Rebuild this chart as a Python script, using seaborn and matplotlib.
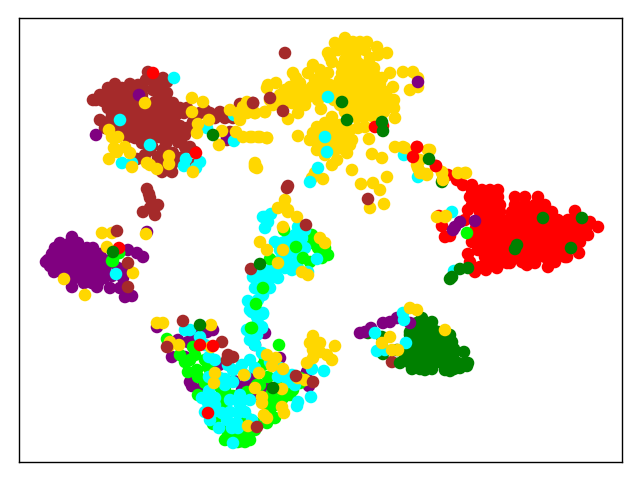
import seaborn as sns
import matplotlib.pyplot as plt
import pandas as pd

sns.set_style("white", {"axes.edgecolor": "black"})

# embedding coordinates, one list per class and layer
brown_core = [(392,362),(148,72),(151,76),(146,80),(155,83),(163,78),(167,82),(158,86),(163,90),(167,93),(153,90),
    (108,88),(115,84),(122,88),(130,84),(138,85),(143,88),(100,95),(110,95),(118,95),(126,95),(134,95),(142,95),(160,97),(166,100),
    (93,100),(103,101),(112,102),(120,102),(128,102),(136,102),(144,102),(155,102),(163,104),(173,103),
    (108,108),(116,108),(124,108),(132,108),(140,108),(148,108),(156,108),(164,108),(172,108),(180,108),(187,108),
    (112,115),(120,115),(128,115),(136,115),(144,115),(152,115),(160,115),(168,115),(176,115),(184,113),
    (100,120),(108,122),(118,122),(126,122),(134,122),(142,122),(150,122),(158,122),(166,122),(174,122),(193,122),
    (120,130),(128,130),(136,130),(144,130),(152,130),(160,130),(168,130),(176,130),(187,128),(180,126),
    (143,137),(151,137),(159,137),(167,137),(175,137),(142,143),(150,150),(163,150),(173,153),(158,157),(158,163),(157,168),(173,163),
    (168,170),(172,172),(137,159),(185,147),(190,147),(195,152),(183,157),(193,165),(164,158),(152,146),(166,144),
    (147,189),(150,198),(158,205),(150,208),(143,212),(155,215),(149,194),(153,205),
    (200,113),(210,113),(220,112),(233,118),(253,103),(247,106),(227,140),(230,132),
    (135,138),(128,137),(178,142),(185,135),(195,118),(205,110),(105,128),(96,100),(145,155),(162,172),(240,104),(215,118),(225,118)]

gold_core = [(345,38),(335,43),(328,53),(332,62),(347,53),(353,42),(367,42),(358,50),(377,47),(387,53),(378,55),(340,46),(360,42),(350,47),
    (342,66),(350,64),(358,63),(366,65),(374,68),(342,73),(350,72),(358,71),(366,72),(374,74),(382,78),(340,80),(348,80),(356,79),(364,80),(372,81),(380,84),
    (338,87),(346,88),(354,87),(362,88),(370,89),(378,90),(386,92),(340,95),(348,95),(356,95),(364,96),(372,96),(380,97),(388,98),(394,100),
    (348,103),(356,103),(364,103),(372,104),(380,104),(388,105),(394,108),(352,110),(360,110),(368,111),(376,111),(384,112),(356,117),(364,117),(372,116),(345,112),(340,105),
    (268,85),(276,83),(293,73),(308,73),(313,65),(320,70),(328,73),(290,87),(300,83),(312,87),(280,95),(287,98),(292,103),(273,105),(297,102),(307,98),(313,95),(323,80),(325,87),
    (321,109),(298,113),(288,119),(332,117),(265,112),(255,113),(296,78),(304,90),(285,90),(290,95),(330,85),(332,92),(334,100),
    (298,136),(317,127),(325,123),(313,133),(322,135),(317,142),(337,132),(350,130),(333,138),(343,137),(352,140),(330,145),(340,145),(350,145),(317,150),(322,148),(347,153),
    (337,160),(332,165),(352,170),(365,127),(369,139),(372,154),(382,158),(395,118),(387,177),(361,184),(373,183),(380,190),(384,204),(370,208),(323,179),(315,173),(312,178),
    (255,165),(257,168),(403,72),(413,72),(418,78),(393,87),(410,90),(418,87),(390,73),(250,137),(258,137),(267,138),(325,130),(310,140),(358,128),
    (338,50),(365,50),(370,58),(345,60),(330,57),(355,57),(300,95),(315,80),(320,90),(305,105),(295,90),(280,105),(318,100),(320,140),(325,140),(340,125),(335,125),(345,125),(330,130),(345,150),(325,155),(335,150)]

red_core = [(472,190),(482,190),(490,190),(498,190),(470,197),(480,197),(490,197),(498,197),(515,197),(525,197),(538,197),
    (472,205),(482,205),(492,205),(500,205),(515,205),(525,205),(535,205),(545,205),(480,212),(490,212),(500,212),(512,212),(522,212),(532,212),(542,212),(552,212),(575,211),
    (468,210),(478,220),(488,220),(498,220),(508,220),(518,220),(528,220),(538,220),(548,220),(558,220),(568,220),(578,220),
    (476,228),(486,228),(496,228),(506,228),(516,228),(526,228),(536,228),(546,228),(556,228),(566,228),(576,228),(586,228),
    (478,235),(488,235),(498,235),(508,235),(518,235),(528,235),(538,235),(548,235),(558,235),(568,235),(578,235),(588,235),(598,227),
    (480,242),(490,242),(500,242),(510,242),(520,242),(530,242),(540,242),(550,242),(560,242),(570,242),(580,242),
    (472,242),(478,250),(488,250),(498,250),(508,250),(518,250),(528,250),(538,250),(548,250),(558,250),(568,250),(575,248),
    (485,257),(495,257),(505,257),(515,257),(525,257),(535,257),(545,257),(555,257),(565,257),(579,253),(490,263),(500,263),(510,263),(525,263),(535,263),
    (468,254),(470,262),(475,272),(486,270),(497,268),(507,263),(527,265),(548,267),(555,262),(567,257),(522,262),(480,267),(493,255),
    (442,226),(439,216),(445,237),(450,236),(465,220),(436,166),(448,175),(457,180),(463,185),(472,185),(590,222)]

purple_core = [(72,237),(60,243),(70,243),(78,243),(55,248),(63,248),(71,248),(79,248),(87,248),(93,248),(52,254),(60,254),(68,254),(76,254),(84,254),(92,254),(100,254),
    (48,260),(46,262),(56,260),(64,260),(72,260),(80,260),(88,260),(96,260),(104,260),(50,266),(58,266),(66,266),(74,266),(82,266),(90,266),(98,266),(106,266),
    (54,272),(62,272),(70,272),(78,272),(86,272),(94,272),(102,272),(72,278),(80,278),(88,278),(96,278),(104,278),(84,283),(92,283),(98,283),
    (72,287),(97,287),(110,288),(120,288),(125,297),(132,296),(128,250),(143,257),(137,253),(118,268),(128,270),(123,278),(112,276)]

green_core = [(422,318),(417,323),(432,322),(410,332),(418,328),(425,328),(432,328),(438,332),
    (410,335),(418,335),(426,335),(434,335),(442,335),(450,335),(412,342),(420,342),(428,342),(436,342),(444,342),(452,342),
    (408,349),(416,349),(424,349),(432,349),(440,349),(448,349),(454,349),(405,356),(413,356),(421,356),(429,356),(437,356),(445,356),(453,356),(464,352),
    (400,363),(410,363),(418,363),(426,363),(434,363),(442,363),(450,363),(458,363),(466,363),(412,369),(420,369),(432,369),(446,369),(454,369),(468,363),
    (413,368),(425,370),(445,370),(450,371),(460,368),(467,366),(382,337),(368,333),(383,354),(397,350)]

purple_stray = [(96,135),(139,95),(227,138),(453,230),(455,227),(460,222),(475,221),(360,333),(371,328),(365,332),(383,323),(390,322),(397,318),(410,323),
    (418,82),(147,232),(157,327),(193,335),(200,332),(207,332),(213,330),(188,342),(178,340),(172,357),(185,357),(190,382),(192,386),(203,387),(219,365),(218,408),
    (245,385),(242,390),(250,390),(260,395),(268,388),(255,345),(307,372),(309,386),(241,441),(268,407),(240,422),(280,358),(265,333),(234,381),(252,378)]

lime = [(167,339),(193,347),(195,355),(185,362),(188,372),(197,370),(208,367),(198,377),(205,383),(198,395),(220,387),(225,390),(220,398),(223,405),(233,396),(247,392),(257,385),
    (263,365),(265,358),(268,377),(272,393),(273,400),(283,398),(293,390),(290,395),(270,410),(275,418),(267,423),(213,424),(228,428),(228,435),(233,438),(245,442),(248,433),(240,433),(247,418),(255,423),
    (312,235),(313,243),(318,248),(325,248),(328,255),(322,258),(310,262),(467,233),(112,261),(119,253),
    (225,440),(235,430),(250,440),(215,420),(260,385),(280,385),(300,383),(300,378),(275,405),(255,430),(238,442),(205,360),(190,360),(180,355),(210,375)]

cyan = [(265,217),(271,214),(268,222),(265,228),(298,227),(305,230),(295,235),(288,237),(302,238),(275,242),(282,243),(292,245),(305,248),(297,253),(288,253),(282,258),(290,263),(295,263),(292,270),(298,268),(308,272),(317,259),
    (272,268),(277,268),(265,272),(260,273),(253,277),(278,278),(272,277),(263,280),(270,288),(255,288),(263,295),(248,301),(258,300),(252,312),(263,314),(257,317),(258,323),(262,327),(247,330),
    (263,313),(252,330),(262,328),(248,330),(257,335),(185,330),(200,337),(209,357),(262,353),(242,365),(250,360),(233,370),(209,377),(225,379),(233,382),(278,377),(288,382),(292,375),(209,391),(202,398),(208,403),(215,398),(230,400),(240,405),
    (213,412),(222,413),(230,412),(238,413),(227,420),(237,423),(238,428),(219,428),(298,402),(297,406),(311,397),(312,369),(324,371),(280,368),(233,443),(174,78),(207,128),(234,141),(234,115),(186,159),(200,162),(196,168),(184,166),(122,163),(132,163),(120,120),(150,145),
    (328,97),(318,168),(310,182),(404,155),(327,152),(325,137),(418,177),(263,217),(452,212),(454,271),(116,274),(403,313),(404,320),(375,333),(377,351),(385,350),(406,343),
    (205,345),(215,360),(190,330),(225,385),(215,405),(232,428),(245,412),(250,400),(245,375),(255,368),(270,362),(285,375),(295,385),(220,378),(228,365),(210,420),(252,420),(240,395),(205,412),
    (280,250),(300,258),(285,268),(275,262),(268,282),(260,290),(250,310),(255,345),(250,340)]

lime_top = [(284,230),(296,247),(270,259),(303,258),(263,288),(256,304),(251,328),(279,345),(252,328),(113,261),(119,253)]

gold_stray = [(395,147),(405,148),(413,153),(430,150),(420,160),(418,168),(427,174),(420,173),(442,173),(443,180),(445,217),(403,147),(413,153),(428,150),(417,165),(422,173),(427,175),(442,172),(458,173),(465,173),(446,216),(437,217),
    (278,208),(285,200),(288,210),(297,217),(288,212),(283,227),(260,242),(267,250),(283,250),(320,238),(325,243),(302,272),(308,275),(278,263),
    (192,98),(203,102),(145,103),(192,112),(198,124),(197,133),(209,120),(222,131),(236,132),(219,145),(109,130),(112,137),(118,137),(114,148),(117,152),(125,147),(130,153),(109,159),(132,167),(147,163),(150,165),(169,156),(169,164),(157,169),(193,172),(255,163),(255,167),
    (230,110),(243,107),(247,102),(238,113),(247,113),(255,113),(265,112),(243,137),(252,137),(260,137),(267,138),(240,120),(267,88),(270,100),
    (102,233),(112,233),(146,234),(107,247),(64,279),(85,295),(133,273),(157,323),(163,323),(211,325),(170,342),(169,346),(179,345),(211,347),(267,355),(276,358),(272,366),(283,369),(244,375),(259,373),(215,373),(214,383),(255,388),(282,389),(262,397),(262,403),(282,407),(284,413),(264,415),(267,418),(248,426),
    (313,336),(310,343),(320,343),(335,346),(313,350),(320,352),(327,355),(332,360),(307,363),(313,358),(298,378),(305,380),(410,308),(417,310),(390,337),(382,343),(392,350),(398,350),(445,330)]

brown_stray = [(285,53),(253,103),(283,111),(270,98),(128,287),(128,263),(117,231),(228,355),(227,360),(233,357),(183,321),(222,342),(296,376),(313,382),(257,427),(167,347),(368,199),(251,269),(287,188),(306,225),(288,186)]

red_stray = [(153,73),(196,153),(375,127),(383,126),(417,147),(413,157),(436,166),(417,147),(119,248),(208,413),(200,345),(213,346)]

dark_stray = [(213,135),(342,102),(383,131),(429,159),(442,182),(382,122),(347,120),(543,218),(582,218),(571,248),(517,245),(515,249),(450,279),(452,277),(460,269),(468,268),(260,264),(113,252),(200,325),(273,388)]

gold_top = [(443,180),(466,173)]

# draw order follows the table order, later rows sit on top
layers = [
    ("brown", brown_core), ("gold", gold_core), ("red", red_core), ("purple", purple_core), ("darkgreen", green_core),
    ("purple", purple_stray), ("lime", lime), ("cyan", cyan), ("lime", lime_top), ("gold", gold_stray),
    ("brown", brown_stray), ("red", red_stray), ("darkgreen", dark_stray), ("gold", gold_top),
]
frames = [pd.DataFrame(pts, columns=["x", "y"]).assign(label=name) for name, pts in layers]
data = pd.concat(frames, ignore_index=True)

palette = {"brown": "#a52a2a", "gold": "#ffd700", "red": "#ff0000", "purple": "#800080",
           "darkgreen": "#008000", "lime": "#00ff00", "cyan": "#00ffff"}

fig = plt.figure(figsize=(6.4, 4.8), dpi=100)
ax = fig.add_axes([19 / 640, 18 / 480, 603 / 640, 444 / 480])
sns.scatterplot(data=data, x="x", y="y", hue="label", palette=palette, s=82, linewidth=0, legend=False, ax=ax)
ax.set_xlim(19, 622)
ax.set_ylim(462, 18)
ax.set_xticks([])
ax.set_yticks([])
ax.set_xlabel("")
ax.set_ylabel("")
for spine in ax.spines.values():
    spine.set_linewidth(1)

plt.savefig("out.png", dpi=100)
plt.close()
